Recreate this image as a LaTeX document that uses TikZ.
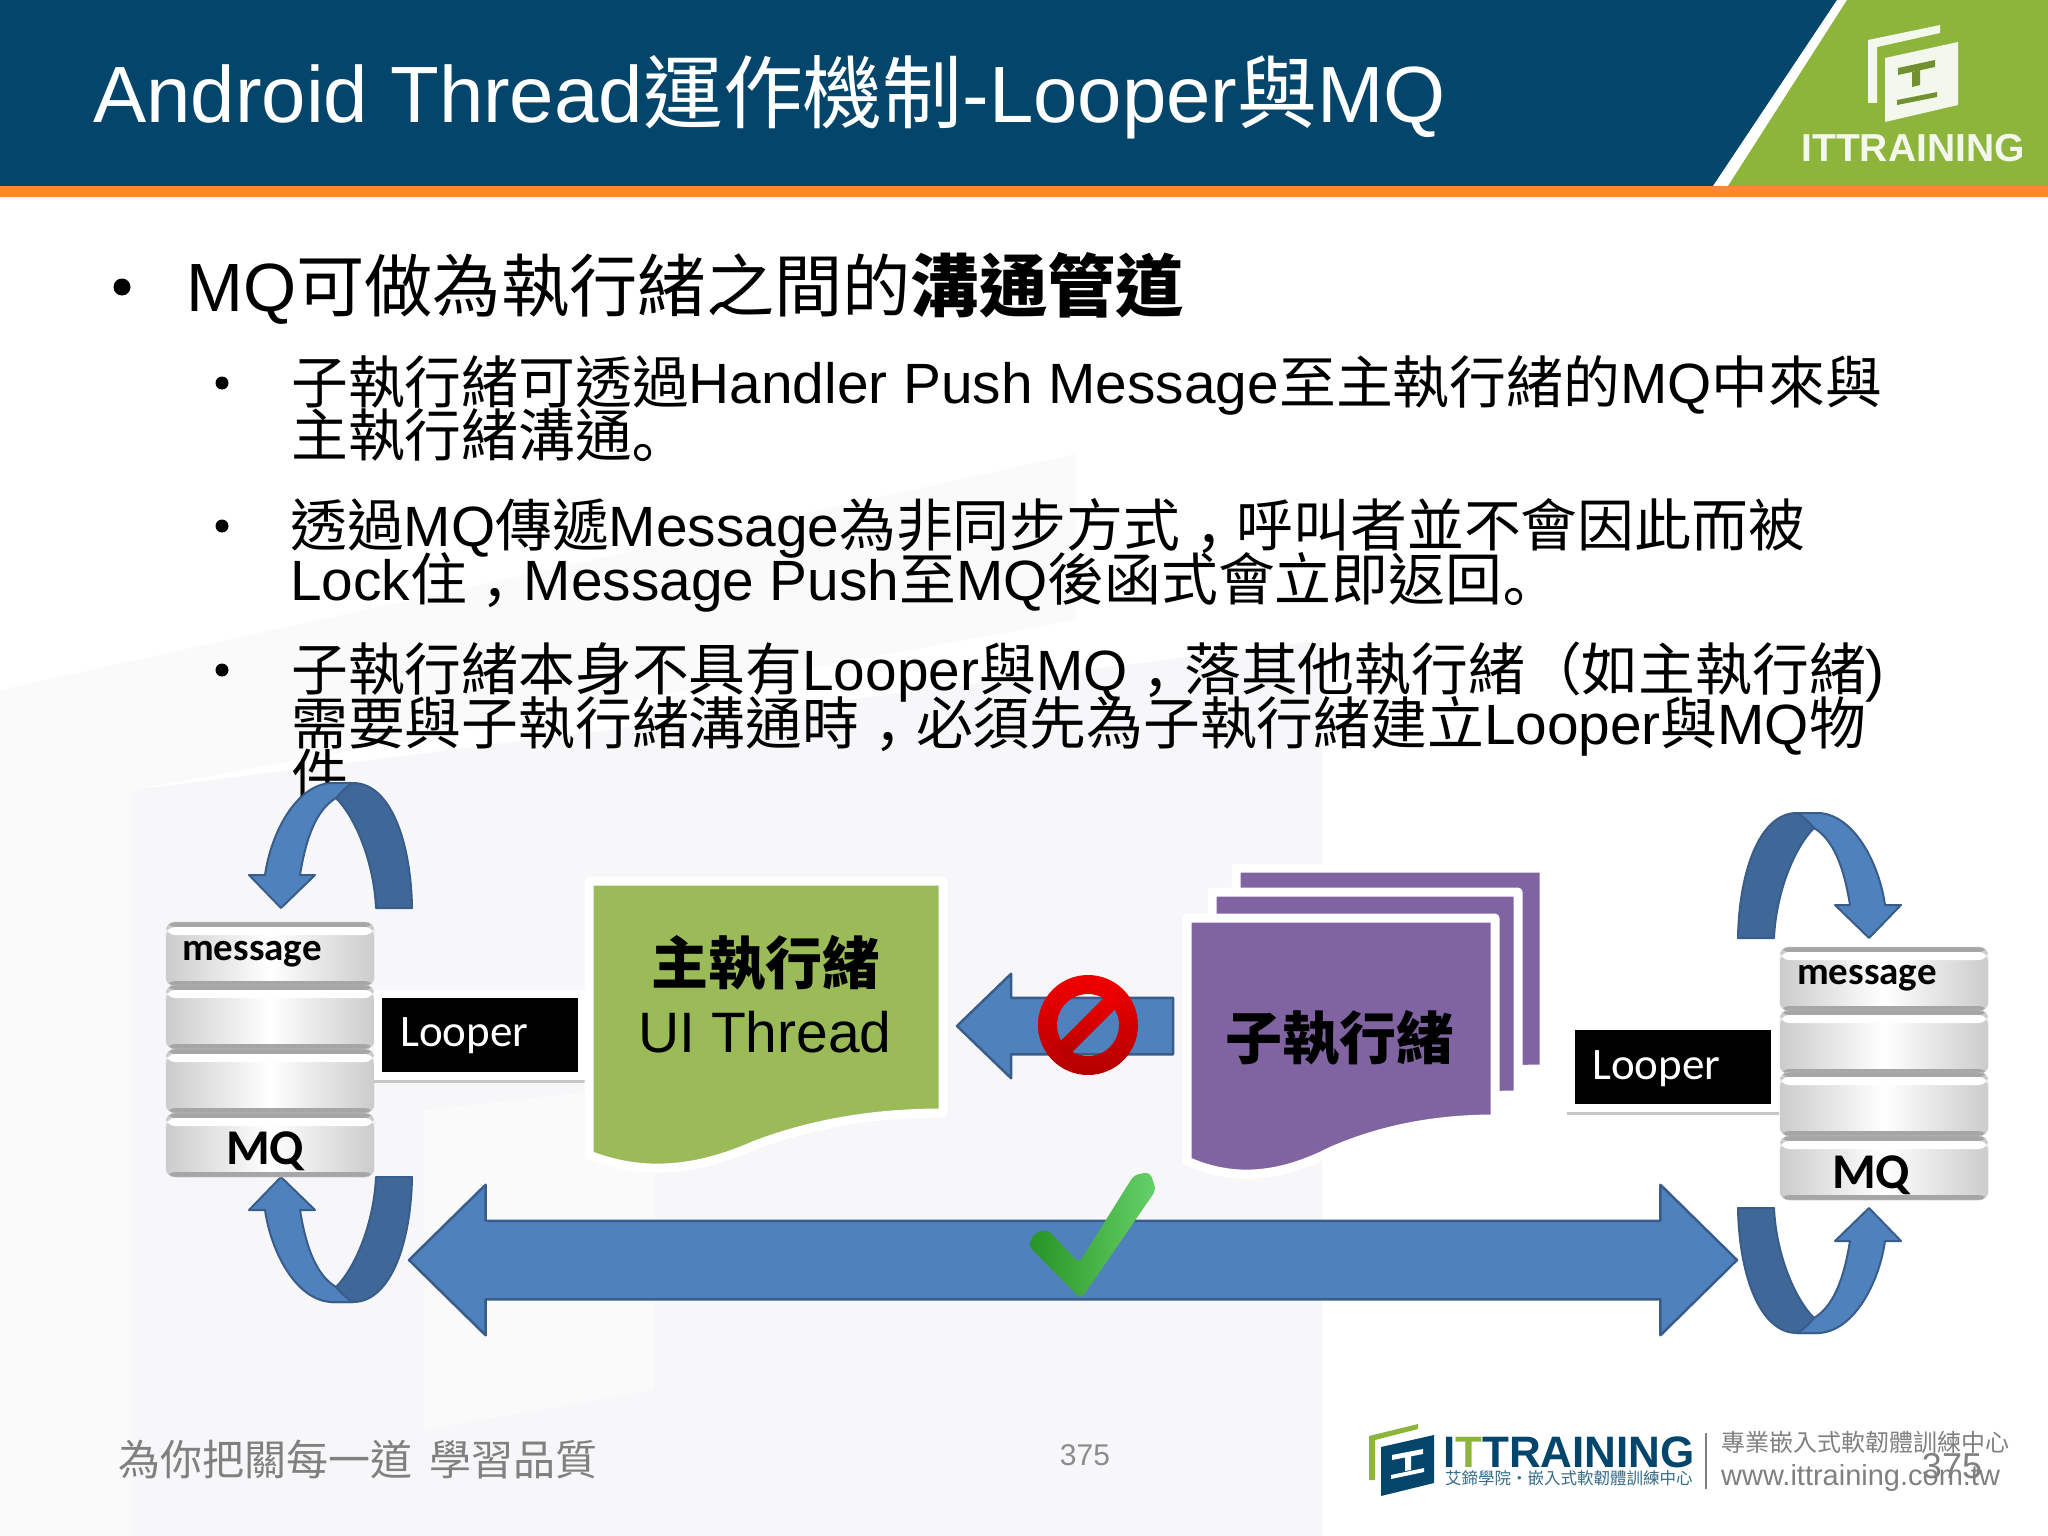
\documentclass[tikz,border=0pt]{standalone}
\usepackage{fontspec}
\setmainfont{Liberation Sans}
\newfontfamily\cjk{Noto Sans CJK TC}
\newfontfamily\calibri{Carlito}
\usetikzlibrary{shapes.arrows}
\newcommand{\zh}[1]{{\cjk #1}}
\newcommand{\low}[1]{\raisebox{-.33em}{\cjk #1}}
\newcommand{\lowstop}{\hspace*{-.3em}\low{。}}
\newcommand{\fs}[1]{\fontsize{#1}{#1}\selectfont}
\definecolor{headblue}{HTML}{04466B}
\definecolor{headorange}{HTML}{FC8830}
\definecolor{logogreen}{HTML}{8DB53C}
\definecolor{arrowblue}{HTML}{4F81BD}
\definecolor{arrowdark}{HTML}{3F6797}
\definecolor{arrowedge}{HTML}{385D8A}
\definecolor{sheetgreen}{HTML}{9BBB59}
\definecolor{sheetpurple}{HTML}{8064A2}
\definecolor{cellgray}{HTML}{A6A6A6}
\definecolor{markback}{HTML}{FAFAFB}
\definecolor{markfront}{HTML}{F7F7F9}
\tikzset{
	bodyline/.style={anchor=base west, inner sep=0pt, font=\fs{56.8}},
	bulletdot/.style={circle, fill=black, inner sep=0pt, minimum size=#1},
	softshadow/.style={preaction={draw=gray!45, fill=none, transform canvas={yshift=-3pt}}},
	docframe/.style={draw=white, line width=9pt, line join=round, softshadow},
	sheettext/.style={inner sep=0pt, font=\fs{57}},
	mqcell/.style={rectangle, rounded corners=9pt, minimum width=208pt, minimum height=64pt, inner sep=0pt, draw=cellgray!60, left color=gray!40, right color=gray!40, middle color=white,
		path picture={
			\fill[cellgray] (path picture bounding box.north west) rectangle ([yshift=-5pt]path picture bounding box.north east);
			\fill[white] ([yshift=-5pt]path picture bounding box.north west) rectangle ([yshift=-13pt]path picture bounding box.north east);
			\fill[cellgray] (path picture bounding box.south west) rectangle ([yshift=5pt]path picture bounding box.south east);
		}},
	cellword/.style={inner sep=0pt, font=\calibri\bfseries\fs{#1}},
	looperbox/.style={rectangle, fill=black, draw=white, line width=8pt, minimum width=204pt, minimum height=82pt, inner sep=0pt, softshadow},
	looperword/.style={anchor=west, inner sep=0pt, text=white, font=\calibri\fs{45}},
	blockarrow/.style={fill=arrowblue, draw=arrowedge, line width=2.5pt, line join=round, inner sep=0pt, outer sep=0pt},
	mqloop/.pic={
		\filldraw[fill=arrowdark, draw=arrowedge, line width=2pt, line join=round] (95,0) -- (131,0) .. controls (130,-65) and (110,-125) .. (72,-125) -- (50,-125) -- (55,-110) .. controls (75,-90) and (93,-45) .. (95,0) -- cycle;
		\filldraw[fill=arrowblue, draw=arrowedge, line width=2pt, line join=round] (0,0) -- (34,-33) -- (19,-33) .. controls (25,-70) and (35,-98) .. (55,-110) .. controls (60,-116) and (66,-122) .. (72,-125) -- (50,-125) .. controls (15,-123) and (-10,-75) .. (-16,-33) -- (-32,-33) -- cycle;
	}
}
\newcommand{\docsheet}[5]{
	\filldraw[docframe, fill=#5] (#1,#2) -- (#3,#2) -- (#3,#4)
		.. controls ({#1+.79*(#3-#1)},#4) and ({#1+.62*(#3-#1)},#4+12) .. ({#1+.47*(#3-#1)},#4+32)
		.. controls ({#1+.28*(#3-#1)},#4+62) and ({#1+.13*(#3-#1)},#4+60) .. (#1,#4+42) -- cycle;
}
\begin{document}
\begin{tikzpicture}[x=1pt,y=-1pt]
	\useasboundingbox (0,0) rectangle (2048,1536);
	\fill[white] (0,0) rectangle (2048,1536);
	% watermark
	\fill[markback] (0,690) -- (1076,454) -- (1076,620) -- (132,790) -- (132,1536) -- (0,1536) -- cycle;
	\fill[markfront] (132,790) -- (1322,640) -- (1322,1536) -- (132,1536) -- cycle;
	\fill[markback] (424,1110) -- (654,1085) -- (654,1390) -- (424,1430) -- cycle;
	% header
	\fill[headblue] (0,0) rectangle (2048,186);
	\fill[white] (1837,0) -- (2048,0) -- (2048,186) -- (1713,186) -- cycle;
	\fill[logogreen] (1847,0) -- (2048,0) -- (2048,186) -- (1728,186) -- cycle;
	\fill[headorange] (0,186) rectangle (2048,197);
	\node[anchor=base west, inner sep=0pt, text=white, font=\fs{79.8}] (title) at (93,123) {Android Thread\zh{運作機制}-Looper\zh{與}MQ};
	% header logo
	\fill[white!90!logogreen] (1868,40) -- (1940,25) -- (1940,33) -- (1877,47) -- (1877,103) -- (1868,103) -- cycle;
	\fill[white!90!logogreen] (1885,58) -- (1958,42) -- (1958,105) -- (1885,122) -- cycle;
	\fill[logogreen!80!black] (1898,68) -- (1935,60) -- (1935,67) -- (1898,75) -- cycle;
	\fill[logogreen!80!black] (1912,72) -- (1920,70) -- (1920,85) -- (1912,87) -- cycle;
	\fill[logogreen!80!black] (1897,100) -- (1937,92) -- (1937,97) -- (1897,105) -- cycle;
	\node[inner sep=0pt, text=white!90!logogreen, font=\bfseries\fs{39}] (brand) at (1913,148) {ITTRAINING};
	% text
	\node[bulletdot=17pt] (dot0) at (122,287) {};
	\node[anchor=base west, inner sep=0pt, font=\fs{68.3}] (lead) at (186,311) {MQ\zh{可做為執行緒之間的\bfseries 溝通管道}};
	\foreach \n/\y in {1/383,2/526,3/670}{
		\node[bulletdot=13pt] (dot\n) at (222,\y) {};
	}
	\foreach \n/\x/\y/\t in {
		1/291/403/{\zh{子執行緒可透過}Handler Push Message\zh{至主執行緒的}MQ\zh{中來與}},
		2/291/456/{\zh{主執行緒溝通}\lowstop},
		3/290/546/{\zh{透過}MQ\zh{傳遞}Message\zh{為非同步方式}\low{，}\zh{呼叫者並不會因此而被}},
		4/290/600/{Lock\zh{住}\low{，}Message Push\zh{至}MQ\zh{後函式會立即返回}\lowstop},
		5/291/690/{\zh{子執行緒本身不具有}Looper\zh{與}MQ\low{，}\zh{落其他執行緒（如主執行緒}{)}},
		6/291/744/{\zh{需要與子執行緒溝通時}\low{，}\zh{必須先為子執行緒建立}Looper\zh{與}MQ\zh{物}},
		7/291/796/{\zh{件}}}{
		\node[bodyline] (line\n) at (\x,\y) {\t};
	}
	% loops
	\pic (looptl) at (281,908) {mqloop};
	\pic[yscale=-1] (loopbl) at (281,1177) {mqloop};
	\pic[xscale=-1] (looptr) at (1869,938) {mqloop};
	\pic[xscale=-1,yscale=-1] (loopbr) at (1869,1208) {mqloop};
	% left stack
	\foreach \i/\y in {1/954,2/1017,3/1081,4/1145}{
		\node[mqcell] (cellL\i) at (270,\y) {};
	}
	\node[cellword=39, anchor=base west] (msgL) at (182,960) {message};
	\node[cellword=50] (mqL) at (265,1151) {MQ};
	% right stack
	\foreach \i/\y in {1/979,2/1042,3/1104,4/1168}{
		\node[mqcell] (cellR\i) at (1884,\y) {};
	}
	\node[cellword=39, anchor=base west] (msgR) at (1797,984) {message};
	\node[cellword=50] (mqR) at (1871,1175) {MQ};
	% looper boxes
	\node[looperbox] (looperL) at (480,1035) {};
	\node[looperword] (looperLword) at (400,1036) {Looper};
	\node[looperbox] (looperR) at (1673,1067) {};
	\node[looperword] (looperRword) at (1592,1069) {Looper};
	% sheets
	\docsheet{589}{881}{943}{1113}{sheetgreen}
	\node[sheettext] (mainzh) at (765,963) {\zh{\bfseries 主執行緒}};
	\node[sheettext] (mainen) at (765,1032) {UI Thread};
	\docsheet{1236}{868}{1544}{1069}{sheetpurple}
	\docsheet{1212}{892}{1518}{1095}{sheetpurple}
	\docsheet{1187}{918}{1495}{1119}{sheetpurple}
	\node[sheettext] (childzh) at (1339,1038) {\zh{\bfseries 子執行緒}};
	% arrows
	\node[single arrow, blockarrow, shape border rotate=180, minimum height=216pt, single arrow head extend=24pt, single arrow tip angle=88, anchor=tip] (blocked) at (957,1026) {\rule{0pt}{54pt}};
	\node[double arrow, blockarrow, minimum height=1328pt, double arrow head extend=36pt, double arrow tip angle=89] (shared) at (1073,1260) {\rule{0pt}{76pt}};
	% no sign
	\shade[top color=red!95!black, bottom color=red!70!black, even odd rule] (1088,1025) circle[radius=50] (1088,1025) circle[radius=31];
	\shade[top color=red!95!black, bottom color=red!70!black, rotate around={45:(1088,1025)}] (1050,1017) rectangle (1126,1033);
	% check mark
	\shade[left color=green!50!black!85, right color=green!70!black!60!white, rounded corners=5pt] (1028,1245) -- (1036,1232) -- (1048,1230) -- (1079,1263) -- (1134,1175) -- (1150,1172) -- (1156,1190) -- (1081,1299) -- cycle;
	% footer
	\node[anchor=base west, inner sep=0pt, text=gray, font=\fs{42}] (slogan) at (118,1475) {\zh{為你把關每一道\hspace{8pt} 學習品質}};
	\node[inner sep=0pt, text=gray!90, font=\fs{30}] (pageno) at (1085,1455) {375};
	% footer logo
	\fill[logogreen] (1369,1436) -- (1418,1424) -- (1418,1429) -- (1375,1440) -- (1375,1480) -- (1369,1480) -- cycle;
	\fill[headblue] (1381,1447) -- (1434,1435) -- (1434,1483) -- (1381,1496) -- cycle;
	\fill[white] (1392,1455) -- (1423,1449) -- (1423,1454) -- (1392,1460) -- cycle;
	\fill[white] (1405,1456) -- (1411,1455) -- (1411,1470) -- (1405,1471) -- cycle;
	\fill[white] (1391,1475) -- (1424,1468) -- (1424,1472) -- (1391,1479) -- cycle;
	\node[anchor=base west, inner sep=0pt, text=headblue, font=\bfseries\fs{44}] (footbrand) at (1443,1467) {I{\color{logogreen}T}TRAINING};
	\node[anchor=base west, inner sep=0pt, text=headblue!80, font=\fs{16.5}] (footsub) at (1445,1484) {\zh{艾鍗學院‧嵌入式軟韌體訓練中心}};
	\draw[gray, line width=1.5pt] (1706,1433) -- (1706,1489);
	\node[anchor=base west, inner sep=0pt, text=gray, font=\fs{24}] (footzh) at (1721,1451) {\zh{專業嵌入式軟韌體訓練中心}};
	\node[anchor=base west, inner sep=0pt, text=gray, font=\fs{29}] (footurl) at (1721,1485) {www.ittraining.com.tw};
	\node[inner sep=0pt, text=gray, font=\fs{36}] (pagecopy) at (1952,1466) {375};
\end{tikzpicture}
\end{document}
